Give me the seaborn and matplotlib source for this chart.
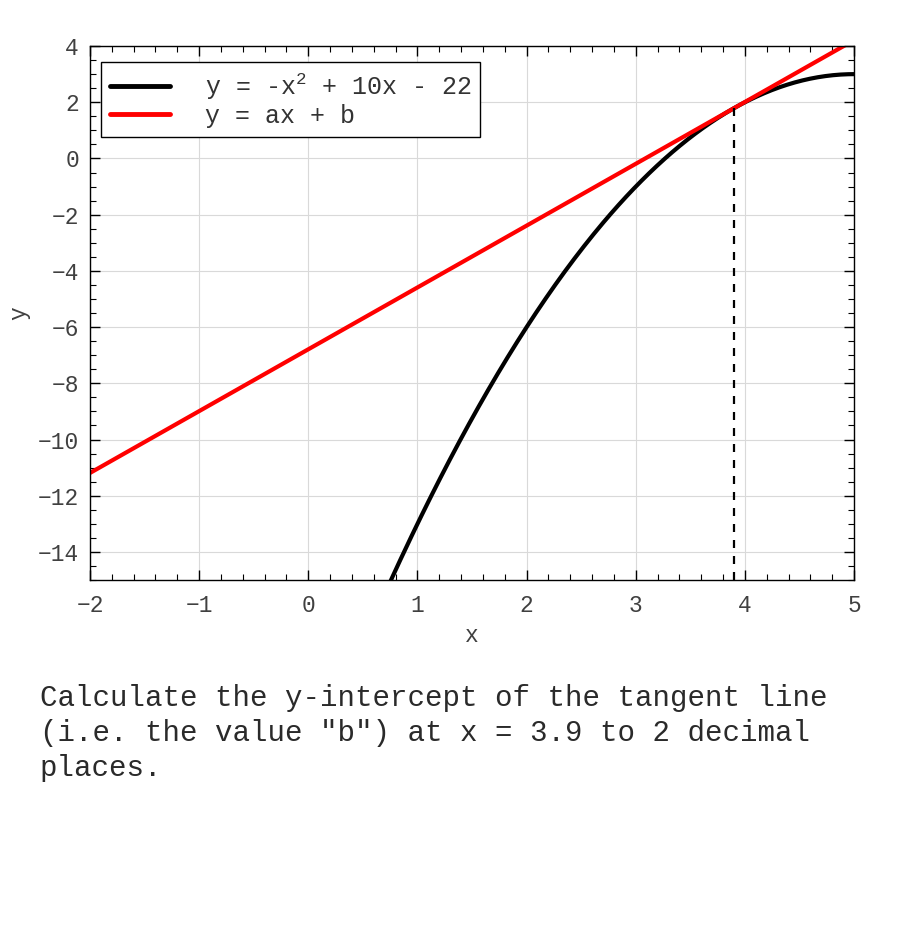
import numpy as np
import pandas as pd
import seaborn as sns
import matplotlib.pyplot as plt
from matplotlib.ticker import MultipleLocator

# curve y = -x^2 + 10x - 22 and its tangent at x = 3.9
quad_coeffs = [-1, 10, -22]
x_range = [-2, 5]
x_tangent = 3.9
tangent_slope = 2.2
tangent_intercept = -6.79
x_ticks = [-2, -1, 0, 1, 2, 3, 4, 5]
y_ticks = [-14, -12, -10, -8, -6, -4, -2, 0, 2, 4]

sns.set_style("ticks")
plt.rcParams["font.family"] = ["Liberation Mono", "DejaVu Sans"]
plt.rcParams["mathtext.fontset"] = "custom"
plt.rcParams["mathtext.rm"] = "Liberation Mono"
plt.rcParams["mathtext.it"] = "Liberation Mono"

xs = np.linspace(x_range[0], x_range[1], 400)
curve = pd.DataFrame({"x": xs, "y": np.polyval(quad_coeffs, xs)})
line = pd.DataFrame({"x": x_range,
                     "y": [tangent_slope * v + tangent_intercept for v in x_range]})
y_tan = np.polyval(quad_coeffs, x_tangent)

fig = plt.figure(figsize=(9, 9.3), dpi=100)
ax = fig.add_axes([0.1, 0.3763, 0.849, 0.5742])

sns.lineplot(data=curve, x="x", y="y", ax=ax, color="black", linewidth=3,
             label="y = -x$^2$ + 10x - 22")
sns.lineplot(data=line, x="x", y="y", ax=ax, color="#ff0000", linewidth=3,
             label="y = ax + b")
ax.plot([x_tangent, x_tangent], [-15, y_tan], color="black", linestyle="--",
        linewidth=1.6, dashes=(3.6, 3.6))

ax.set_xlim(-2, 5)
ax.set_ylim(-15, 4)
ax.set_xticks(x_ticks)
ax.set_yticks(y_ticks)
ax.xaxis.set_minor_locator(MultipleLocator(0.2))
ax.yaxis.set_minor_locator(MultipleLocator(0.5))
ax.tick_params(which="both", direction="in", top=True, right=True,
               labelsize=16.5, labelcolor="#404040", color="black")
ax.tick_params(which="major", length=7, width=1)
ax.tick_params(which="minor", length=4, width=0.8)
ax.tick_params(axis="x", which="major", pad=10)
ax.tick_params(axis="y", which="major", pad=8)
ax.set_xticklabels([str(v).replace("-", "\u2212") for v in x_ticks])
ax.set_yticklabels([str(v).replace("-", "\u2212") for v in y_ticks])
ax.grid(True, which="major", color="#d9d9d9", linewidth=0.8)
ax.set_axisbelow(True)
for s in ax.spines.values():
    s.set_color("black")
    s.set_linewidth(1)

ax.set_xlabel("x", fontsize=16.5, color="#404040", labelpad=5)
ax.set_ylabel("y", fontsize=16.5, color="#404040", labelpad=5)

leg = ax.legend(loc="upper left", fontsize=18, frameon=True, fancybox=False,
                handlelength=2.4, handletextpad=1.4, borderpad=0.35,
                labelspacing=0.1, bbox_to_anchor=(0.0144, 0.970),
                borderaxespad=0)
leg.get_frame().set_edgecolor("black")
leg.get_frame().set_linewidth(1)
leg.get_frame().set_alpha(1)
for h in leg.get_lines():
    h.set_linewidth(3.5)
for t in leg.get_texts():
    t.set_color("#333333")

fig.text(0.044, 0.2118, "Calculate the y-intercept of the tangent line\n"
         "(i.e. the value \"b\") at x = 3.9 to 2 decimal\nplaces.",
         fontsize=21, color="#2a2a2a", ha="left", va="center",
         linespacing=1.3)

fig.savefig("out.png", dpi=100)
